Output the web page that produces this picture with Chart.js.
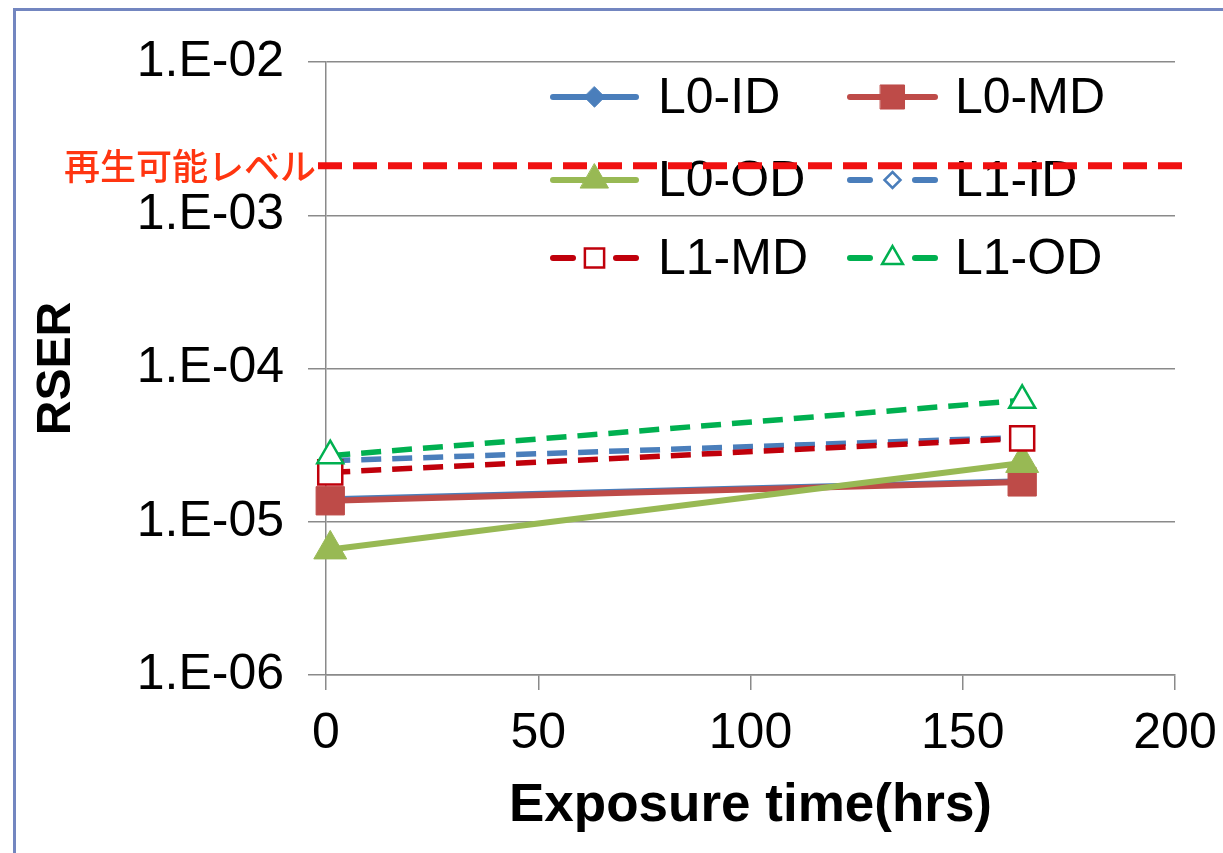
<!DOCTYPE html>
<html>
<head>
<meta charset="utf-8">
<script src="https://cdn.jsdelivr.net/npm/chart.js@4/dist/chart.umd.min.js"></script>
<style>
  html, body { margin: 0; padding: 0; background: #fff; overflow: hidden; }
  #wrap { position: relative; width: 1223px; height: 853px; }
  #frame { position: absolute; left: 13px; top: 8px; width: 1240px; height: 880px; border: 3px solid #7386c0; box-sizing: border-box; }
  canvas { position: absolute; left: 0; top: 0; }
</style>
</head>
<body>
<div id="wrap">
  <div id="frame"></div>
  <canvas id="grafico" width="1223" height="853"></canvas>
</div>
<script>
// valores
const horas = [1, 164];
const l0Id = [1.40e-5, 1.84e-5];
const l0Md = [1.37e-5, 1.82e-5];
const l0Od = [6.6e-6, 2.42e-5];
const l1Id = [2.5e-5, 3.55e-5];
const l1Md = [2.1e-5, 3.5e-5];
const l1Od = [2.7e-5, 6.2e-5];
const nivelReproducao = 2.1e-3;
const yTicks = [1e-6, 1e-5, 1e-4, 1e-3, 1e-2];
const rotuloNivel = '再生可能レベル';

function pontos(vals) {
    return horas.map((h, i) => ({ x: h, y: vals[i] }));
}

const series = [
    { label: 'L0-ID', data: l0Id, cor: '#4a7ebb', estilo: 'rectRot', raio: 12, cheio: true, tracejado: false },
    { label: 'L0-MD', data: l0Md, cor: '#be4b48', estilo: 'rect', raio: 20, cheio: true, tracejado: false },
    { label: 'L0-OD', data: l0Od, cor: '#98b954', estilo: 'triangle', raio: 19, cheio: true, tracejado: false },
    { label: 'L1-ID', data: l1Id, cor: '#4a7ebb', estilo: 'rectRot', raio: 10, cheio: false, tracejado: true },
    { label: 'L1-MD', data: l1Md, cor: '#c0000b', estilo: 'rect', raio: 17, cheio: false, tracejado: true },
    { label: 'L1-OD', data: l1Od, cor: '#00b050', estilo: 'triangle', raio: 15, cheio: false, tracejado: true }
];

function desenharMarcador(ctx, estilo, x, y, r, cor, cheio) {
    ctx.save();
    ctx.beginPath();
    if (estilo === 'rectRot') {
        ctx.moveTo(x, y - r); ctx.lineTo(x + r, y); ctx.lineTo(x, y + r); ctx.lineTo(x - r, y);
    } else if (estilo === 'rect') {
        const s = r * Math.SQRT1_2;
        ctx.rect(x - s, y - s, 2 * s, 2 * s);
    } else {
        ctx.moveTo(x, y - r);
        ctx.lineTo(x + r * Math.sin(2 * Math.PI / 3), y - r * Math.cos(2 * Math.PI / 3));
        ctx.lineTo(x + r * Math.sin(4 * Math.PI / 3), y - r * Math.cos(4 * Math.PI / 3));
    }
    ctx.closePath();
    ctx.setLineDash([]);
    ctx.fillStyle = cheio ? cor : '#ffffff';
    ctx.fill();
    ctx.lineWidth = cheio ? 1 : 2.5;
    ctx.strokeStyle = cor;
    ctx.stroke();
    ctx.restore();
}

const legendaPlugin = {
    id: 'legendaInterna',
    afterDraw(chart) {
        const ctx = chart.ctx;
        const colunas = [{ x0: 553, x1: 636, tx: 658 }, { x0: 850, x1: 935, tx: 955 }];
        const linhas = [97, 180, 258];
        ctx.save();
        series.forEach((s, i) => {
            const c = colunas[i % 2];
            const y = linhas[Math.floor(i / 2)];
            const mx = (c.x0 + c.x1) / 2;
            ctx.strokeStyle = s.cor;
            ctx.lineWidth = 6;
            ctx.lineCap = 'round';
            ctx.setLineDash([]);
            if (s.tracejado) {
                ctx.beginPath(); ctx.moveTo(c.x0, y); ctx.lineTo(c.x0 + 20, y); ctx.stroke();
                ctx.beginPath(); ctx.moveTo(c.x1 - 20, y); ctx.lineTo(c.x1, y); ctx.stroke();
            } else {
                ctx.beginPath(); ctx.moveTo(c.x0, y); ctx.lineTo(c.x1, y); ctx.stroke();
            }
            const r = s.cheio ? s.raio * 0.85 : s.raio * 0.8;
            desenharMarcador(ctx, s.estilo, mx, y, r, s.cor, s.cheio);
            ctx.fillStyle = '#000';
            ctx.font = '50px "Liberation Sans", Arial, sans-serif';
            ctx.textAlign = 'left';
            ctx.textBaseline = 'middle';
            ctx.fillText(s.label, c.tx, y + 2);
        });

        // linha do nível reproduzível
        const yScale = chart.scales.y;
        const area = chart.chartArea;
        const yy = yScale.getPixelForValue(nivelReproducao);
        ctx.strokeStyle = '#f01010';
        ctx.lineWidth = 7;
        ctx.lineCap = 'butt';
        ctx.setLineDash([24, 11]);
        ctx.beginPath();
        ctx.moveTo(area.left - 8, yy);
        ctx.lineTo(area.right + 17, yy);
        ctx.stroke();
        ctx.setLineDash([]);
        ctx.fillStyle = '#ff3510';
        ctx.font = '500 36px "Noto Sans CJK JP", sans-serif';
        ctx.textAlign = 'right';
        ctx.textBaseline = 'middle';
        ctx.fillText(rotuloNivel, area.left - 10, yy);
        ctx.restore();
    }
};

function formatarExp(v) {
    const e = Math.round(Math.log10(v));
    const a = Math.abs(e);
    return '1.E' + (e < 0 ? '-' : '+') + (a < 10 ? '0' + a : a);
}

document.addEventListener('DOMContentLoaded', function() {
    const ctx = document.getElementById('grafico').getContext('2d');
    new Chart(ctx, {
        type: 'line',
        data: {
            datasets: series.map((s, i) => ({
                label: s.label,
                data: pontos(s.data),
                borderColor: s.cor,
                backgroundColor: s.cor,
                borderWidth: s.tracejado ? 5.5 : 6,
                borderDash: s.tracejado ? [20, 11] : [],
                pointStyle: s.estilo,
                pointRadius: s.raio,
                pointBorderWidth: s.cheio ? 1 : 2.5,
                pointBackgroundColor: s.cheio ? s.cor : '#ffffff',
                pointBorderColor: s.cor,
                fill: false,
                clip: false,
                tension: 0,
                order: series.length - i
            }))
        },
        options: {
            responsive: false,
            animation: false,
            layout: { padding: { left: 10, top: 62, right: 48, bottom: 10 } },
            plugins: { legend: { display: false }, tooltip: { enabled: false } },
            scales: {
                x: {
                    type: 'linear',
                    min: 0, max: 200,
                    ticks: { stepSize: 50, color: '#000', padding: 14, font: { size: 50, family: '"Liberation Sans", Arial, sans-serif' } },
                    grid: { drawOnChartArea: false, drawTicks: true, tickLength: 15, color: '#8a8a8a', lineWidth: 1.5 },
                    border: { color: '#8a8a8a', width: 1.5 },
                    title: { display: true, text: 'Exposure time(hrs)', color: '#000', padding: { top: 0, bottom: 5 },
                             font: { size: 53, weight: 'bold', family: '"Liberation Sans", Arial, sans-serif' } },
                    afterFit(scale) {
                        scale.height = 853 - 10 - 675;
                        scale.paddingLeft = 0;
                        scale.paddingRight = 0;
                    }
                },
                y: {
                    type: 'logarithmic',
                    min: 1e-6, max: 1e-2,
                    afterBuildTicks(scale) { scale.ticks = yTicks.map(v => ({ value: v, major: true })); },
                    ticks: { color: '#000', padding: 24, callback: v => formatarExp(v),
                             font: { size: 50, family: '"Liberation Sans", Arial, sans-serif' } },
                    grid: { color: '#8a8a8a', lineWidth: 1.5, tickLength: 18 },
                    border: { color: '#8a8a8a', width: 1.5 },
                    title: { display: true, text: 'RSER', color: '#000', padding: { top: 18, bottom: 0 },
                             font: { size: 48, weight: 'bold', family: '"Liberation Sans", Arial, sans-serif' } },
                    afterFit(scale) { scale.width = 326 - 10; }
                }
            }
        },
        plugins: [legendaPlugin]
    });
});
</script>
</body>
</html>
